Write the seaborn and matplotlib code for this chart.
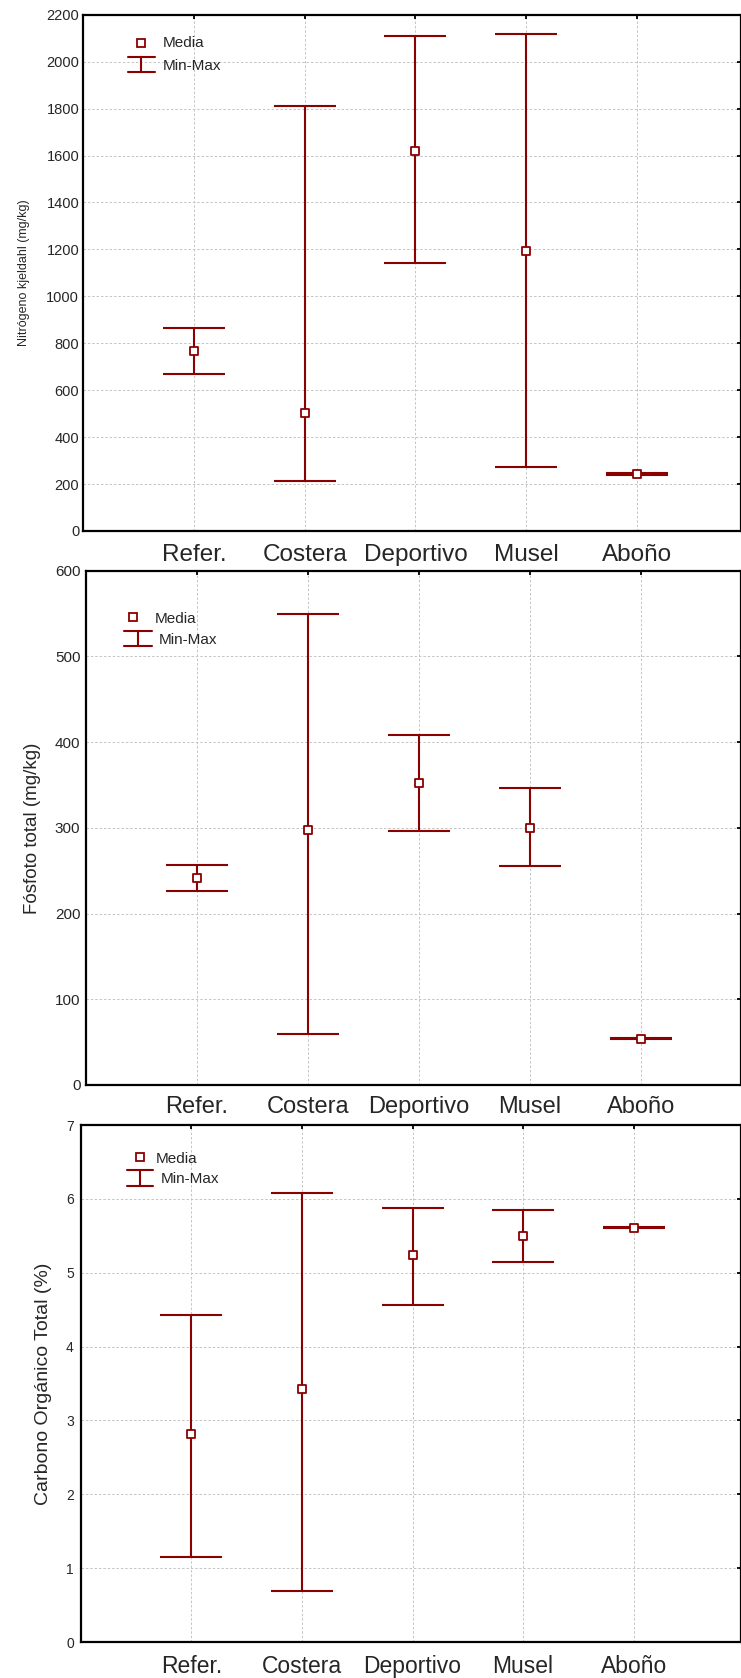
import numpy as np
import pandas as pd
import matplotlib.pyplot as plt
import matplotlib.transforms as mtransforms
from matplotlib.lines import Line2D
import seaborn as sns

# datos (min - media - max por zona)
categorias = ['Refer.', 'Costera', 'Deportivo', 'Musel', 'Aboño']

nitrogeno_media = [766, 502, 1619, 1193, 243]
nitrogeno_min = [668, 215, 1141, 274, 240]
nitrogeno_max = [867, 1809, 2110, 2117, 246]

fosforo_media = [242, 297, 352, 300, 54]
fosforo_min = [226, 59, 296, 256, 53.3]
fosforo_max = [257, 549, 408, 346, 55]

carbono_media = [2.81, 3.42, 5.24, 5.50, 5.61]
carbono_min = [1.15, 0.69, 4.56, 5.15, 5.60]
carbono_max = [4.43, 6.08, 5.87, 5.85, 5.62]

# estilo
rojo = '#8B0000'
gris_grid = '#c4c4c4'

sns.set_style('white')
plt.rcParams['font.family'] = ['Liberation Sans', 'DejaVu Sans']

W, H = 741, 1678
fig = plt.figure(figsize=(W / 100, H / 100), dpi=100)
# coordenadas en pixeles de la figura (origen arriba a la izquierda)
px = mtransforms.Affine2D().scale(1 / W, -1 / H).translate(0, 1) + fig.transFigure


def crear_eje(izq, arriba, abajo):
    return fig.add_axes([izq / W, 1 - abajo / H, (W - izq) / W, (abajo - arriba) / H])


def dibujar_panel(ax, media, minimo, maximo, ymax, paso, xmax, titulo_y,
                  fs_ytick, fs_cat, pad_cat, pad_y, fs_label, label_x):
    df = pd.DataFrame({'pos': np.arange(1, len(categorias) + 1), 'media': media,
                       'minimo': minimo, 'maximo': maximo})
    ax.errorbar(df['pos'], df['media'],
                yerr=[df['media'] - df['minimo'], df['maximo'] - df['media']],
                fmt='none', ecolor=rojo, elinewidth=1.5, capsize=22, capthick=1.5, zorder=3)
    sns.scatterplot(x='pos', y='media', data=df, marker='s', s=34, color='white',
                    edgecolor=rojo, linewidth=1.3, zorder=4, ax=ax)

    ax.set_xlim(0, xmax)
    ax.set_ylim(0, ymax)
    ax.set_xticks(df['pos'])
    ax.set_xticklabels(categorias, fontsize=fs_cat)
    ax.set_yticks(np.arange(0, ymax + paso / 2, paso))
    ax.tick_params(axis='y', labelsize=fs_ytick, pad=pad_y)
    ax.tick_params(axis='x', pad=pad_cat)
    ax.tick_params(direction='in', top=True, right=True, length=3, width=1.3, color='black')
    ax.grid(True, color=gris_grid, linestyle=(0, (2.5, 2)), linewidth=0.7)
    ax.set_axisbelow(True)
    for lado in ax.spines.values():
        lado.set_linewidth(1.6)
        lado.set_color('black')

    ax.set_xlabel('')
    ax.set_ylabel(titulo_y, fontsize=fs_label)
    ax.yaxis.set_label_coords(label_x, 0.5)
    ax.yaxis.label.set_va('center')


def leyenda(sq, t1, barra, t2):
    fig.add_artist(Line2D([sq[0]], [sq[1]], marker='s', markersize=5.8, mfc='white',
                          mec=rojo, mew=1.3, ls='none', transform=px))
    fig.text(t1[0], t1[1], 'Media', transform=px, ha='left', va='center', fontsize=11)
    xc, y1, y2, hw = barra
    for x, y in [([xc - hw, xc + hw], [y1, y1]), ([xc - hw, xc + hw], [y2, y2]),
                 ([xc, xc], [y1, y2])]:
        fig.add_artist(Line2D(x, y, color=rojo, lw=1.5, transform=px))
    fig.text(t2[0], t2[1], 'Min-Max', transform=px, ha='left', va='center', fontsize=11)


# panel 1: nitrogeno
ax1 = crear_eje(83.3, 14.7, 531)
dibujar_panel(ax1, nitrogeno_media, nitrogeno_min, nitrogeno_max, 2200, 200, 5.94,
              'Nitrógeno kjeldahl (mg/kg)', 10.5, 17.5, 9.5, 3, 9, -0.090)
leyenda((140.7, 43.3), (162.7, 43.3), (141.3, 56.7, 72.3, 13.7), (162.7, 65.7))

# panel 2: fosforo
ax2 = crear_eje(86, 570.7, 1085)
dibujar_panel(ax2, fosforo_media, fosforo_min, fosforo_max, 600, 100, 5.90,
              'Fósfoto total (mg/kg)', 11, 17, 8, 4, 13.5, -0.081)
leyenda((133.3, 617.3), (154.3, 619.3), (137.8, 631, 646, 13.8), (159, 640))

# panel 3: carbono
ax3 = crear_eje(80.7, 1125, 1642)
dibujar_panel(ax3, carbono_media, carbono_min, carbono_max, 7, 1, 5.97,
              'Carbono Orgánico Total (%)', 10, 16.5, 9.5, 5, 14, -0.057)
leyenda((140.3, 1157.3), (156, 1159), (140.2, 1170, 1186, 13.2), (161, 1179.3))

fig.savefig('out.png', dpi=100)
